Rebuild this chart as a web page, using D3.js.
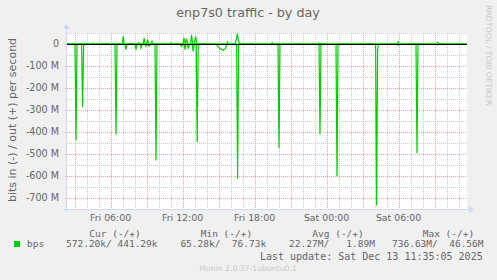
<!DOCTYPE html>
<html>
<head>
<meta charset="utf-8">
<script src="https://cdn.jsdelivr.net/npm/d3@7"></script>
<style>
  body { margin: 0; background: #f0f0f0; }
  text { font-family: "DejaVu Sans", sans-serif; fill: #666; }
  .mono { font-family: "DejaVu Sans Mono", monospace; font-size: 9.5px; white-space: pre; }
</style>
</head>
<body>
<div id="chart"></div>
<script>
// traffic values in Mbit/s
// "in" is drawn below zero, "out" above
var bpsIn = [
  ["2025-12-12 02:22", 1],
  ["2025-12-12 03:02", 1], ["2025-12-12 03:07", 438], ["2025-12-12 03:12", 2],
  ["2025-12-12 03:35", 1], ["2025-12-12 03:40", 288], ["2025-12-12 03:45", 8], ["2025-12-12 03:50", 1],
  ["2025-12-12 06:22", 1], ["2025-12-12 06:27", 411], ["2025-12-12 06:32", 1],
  ["2025-12-12 07:12", 1], ["2025-12-12 07:17", 26], ["2025-12-12 07:22", 1],
  ["2025-12-12 08:02", 1], ["2025-12-12 08:07", 26], ["2025-12-12 08:12", 1],
  ["2025-12-12 08:27", 1], ["2025-12-12 08:32", 18], ["2025-12-12 08:37", 1],
  ["2025-12-12 08:52", 1], ["2025-12-12 08:57", 10], ["2025-12-12 09:02", 1],
  ["2025-12-12 09:08", 1], ["2025-12-12 09:13", 10], ["2025-12-12 09:18", 1],
  ["2025-12-12 09:42", 1], ["2025-12-12 09:47", 530], ["2025-12-12 09:52", 1],
  ["2025-12-12 11:50", 1], ["2025-12-12 11:55", 11], ["2025-12-12 12:00", 1],
  ["2025-12-12 12:08", 1], ["2025-12-12 12:12", 26], ["2025-12-12 12:17", 1],
  ["2025-12-12 12:23", 1], ["2025-12-12 12:28", 18], ["2025-12-12 12:35", 1],
  ["2025-12-12 12:48", 1], ["2025-12-12 12:53", 34], ["2025-12-12 12:58", 1],
  ["2025-12-12 13:08", 1], ["2025-12-12 13:13", 447], ["2025-12-12 13:18", 1],
  ["2025-12-12 14:50", 1], ["2025-12-12 14:55", 10], ["2025-12-12 15:07", 20],
  ["2025-12-12 15:23", 29], ["2025-12-12 15:35", 20], ["2025-12-12 15:40", 1],
  ["2025-12-12 16:30", 1], ["2025-12-12 16:35", 612], ["2025-12-12 16:40", 1],
  ["2025-12-12 19:57", 1], ["2025-12-12 20:02", 474], ["2025-12-12 20:07", 1],
  ["2025-12-12 23:22", 1], ["2025-12-12 23:27", 411], ["2025-12-12 23:32", 1],
  ["2025-12-13 00:47", 1], ["2025-12-13 00:52", 602], ["2025-12-13 00:57", 1],
  ["2025-12-13 04:05", 1], ["2025-12-13 04:10", 734], ["2025-12-13 04:15", 25], ["2025-12-13 04:20", 1],
  ["2025-12-13 05:52", 1], ["2025-12-13 05:57", 5], ["2025-12-13 06:02", 1],
  ["2025-12-13 07:27", 1], ["2025-12-13 07:32", 497], ["2025-12-13 07:37", 1],
  ["2025-12-13 09:10", 1], ["2025-12-13 09:15", 4], ["2025-12-13 09:20", 1],
  ["2025-12-13 11:40", 1]
];

var bpsOut = [
  ["2025-12-12 02:22", 1],
  ["2025-12-12 04:27", 1], ["2025-12-12 04:32", 4], ["2025-12-12 04:37", 1],
  ["2025-12-12 05:35", 1], ["2025-12-12 05:40", 3], ["2025-12-12 05:45", 1],
  ["2025-12-12 06:58", 1], ["2025-12-12 07:03", 35], ["2025-12-12 07:08", 1],
  ["2025-12-12 08:15", 1], ["2025-12-12 08:20", 5], ["2025-12-12 08:25", 1],
  ["2025-12-12 08:43", 1], ["2025-12-12 08:48", 27], ["2025-12-12 08:53", 1],
  ["2025-12-12 09:00", 1], ["2025-12-12 09:05", 20], ["2025-12-12 09:10", 1],
  ["2025-12-12 09:22", 1], ["2025-12-12 09:27", 12], ["2025-12-12 09:32", 1],
  ["2025-12-12 10:24", 1], ["2025-12-12 10:28", 3], ["2025-12-12 10:33", 1],
  ["2025-12-12 10:57", 1], ["2025-12-12 11:02", 5], ["2025-12-12 11:07", 1],
  ["2025-12-12 11:15", 1], ["2025-12-12 11:18", 3], ["2025-12-12 11:22", 1],
  ["2025-12-12 12:02", 1], ["2025-12-12 12:07", 27], ["2025-12-12 12:14", 1],
  ["2025-12-12 12:20", 23], ["2025-12-12 12:25", 1],
  ["2025-12-12 12:40", 1], ["2025-12-12 12:45", 42], ["2025-12-12 12:50", 1],
  ["2025-12-12 12:58", 1], ["2025-12-12 13:05", 33], ["2025-12-12 13:12", 1],
  ["2025-12-12 13:40", 1], ["2025-12-12 13:45", 3], ["2025-12-12 13:50", 1],
  ["2025-12-12 15:40", 1], ["2025-12-12 15:44", 9], ["2025-12-12 15:48", 1],
  ["2025-12-12 16:22", 1], ["2025-12-12 16:30", 25], ["2025-12-12 16:34", 47],
  ["2025-12-12 16:40", 10], ["2025-12-12 16:47", 1],
  ["2025-12-12 19:24", 1], ["2025-12-12 19:28", 7], ["2025-12-12 19:33", 1],
  ["2025-12-12 20:17", 1], ["2025-12-12 20:22", 3], ["2025-12-12 20:27", 1],
  ["2025-12-12 23:15", 1], ["2025-12-12 23:18", 4], ["2025-12-12 23:33", 3], ["2025-12-12 23:37", 1],
  ["2025-12-13 02:30", 1], ["2025-12-13 02:35", 3], ["2025-12-13 02:40", 1],
  ["2025-12-13 04:36", 1], ["2025-12-13 04:40", 3], ["2025-12-13 04:45", 1],
  ["2025-12-13 05:53", 1], ["2025-12-13 05:58", 10], ["2025-12-13 06:03", 1],
  ["2025-12-13 09:10", 1], ["2025-12-13 09:13", 6], ["2025-12-13 09:18", 7], ["2025-12-13 09:22", 1],
  ["2025-12-13 11:40", 1]
];

var timeRange = ["2025-12-12 02:22", "2025-12-13 11:42"];
var xTickTimes = ["2025-12-12 06:00", "2025-12-12 12:00", "2025-12-12 18:00", "2025-12-13 00:00", "2025-12-13 06:00"];
var xTickLabels = ["Fri 06:00", "Fri 12:00", "Fri 18:00", "Sat 00:00", "Sat 06:00"];
var yTickValues = [0, -100, -200, -300, -400, -500, -600, -700];
var yTickLabels = ["0", "-100 M", "-200 M", "-300 M", "-400 M", "-500 M", "-600 M", "-700 M"];

var legendHeaders = ["Cur (-/+)", "Min (-/+)", "Avg (-/+)", "Max (-/+)"];
var legendIn = ["572.20k", "65.28k", "22.27M", "736.63M"];
var legendOut = ["441.29k", "76.73k", "1.89M", "46.56M"];

var svgWidth = 497;
var svgHeight = 280;
var plot = { left: 67, right: 467, top: 33, bottom: 209 };
var green = "#00cc00";
var axisColor = "#cfd6f8";

var parseTime = d3.utcParse("%Y-%m-%d %H:%M");

var svg = d3.select("#chart")
  .append("svg")
  .attr("width", svgWidth)
  .attr("height", svgHeight)
  .style("display", "block");

svg.append("rect")
  .attr("width", svgWidth)
  .attr("height", svgHeight)
  .attr("fill", "#f0f0f0");

var x = d3.scaleUtc()
  .domain(timeRange.map(parseTime))
  .range([plot.left, plot.right]);

var y = d3.scaleLinear()
  .domain([-750, 50])
  .range([plot.bottom, plot.top]);

// canvas
svg.append("rect")
  .attr("x", plot.left)
  .attr("y", plot.top)
  .attr("width", plot.right - plot.left)
  .attr("height", plot.bottom - plot.top)
  .attr("fill", "#fff");

var px = function(v) { return Math.round(v) + 0.5; };

// minor grid: every hour / every 50M
var hours = d3.utcHour.range(x.domain()[0], x.domain()[1]);
svg.append("g").selectAll("line")
  .data(hours.filter(function(d) { return d.getUTCHours() % 3 != 0; }))
  .enter().append("line")
  .attr("x1", function(d) { return px(x(d)); })
  .attr("x2", function(d) { return px(x(d)); })
  .attr("y1", plot.top)
  .attr("y2", plot.bottom)
  .attr("stroke", "#c8c8c8")
  .attr("stroke-dasharray", "1,1");

svg.append("g").selectAll("line")
  .data(d3.range(-750, 51, 50).filter(function(v) { return v % 100 != 0; }))
  .enter().append("line")
  .attr("x1", plot.left)
  .attr("x2", plot.right)
  .attr("y1", function(d) { return px(y(d)); })
  .attr("y2", function(d) { return px(y(d)); })
  .attr("stroke", "#c8c8c8")
  .attr("stroke-dasharray", "1,1");

// major grid: every 3 hours / every 100M
svg.append("g").selectAll("line")
  .data(hours.filter(function(d) { return d.getUTCHours() % 3 == 0; }))
  .enter().append("line")
  .attr("x1", function(d) { return px(x(d)); })
  .attr("x2", function(d) { return px(x(d)); })
  .attr("y1", plot.top)
  .attr("y2", plot.bottom + 2)
  .attr("stroke", "#f0a0a0")
  .attr("stroke-dasharray", "1,1");

svg.append("g").selectAll("line")
  .data(yTickValues.filter(function(v) { return v != 0; }))
  .enter().append("line")
  .attr("x1", plot.left - 2)
  .attr("x2", plot.right)
  .attr("y1", function(d) { return px(y(d)); })
  .attr("y2", function(d) { return px(y(d)); })
  .attr("stroke", "#f0a0a0")
  .attr("stroke-dasharray", "1,1");

// axes with arrows
svg.append("line")
  .attr("x1", px(plot.left - 1)).attr("x2", px(plot.left - 1))
  .attr("y1", plot.bottom + 3).attr("y2", plot.top - 5)
  .attr("stroke", axisColor);
svg.append("line")
  .attr("x1", plot.left - 4).attr("x2", plot.right + 3)
  .attr("y1", px(plot.bottom)).attr("y2", px(plot.bottom))
  .attr("stroke", axisColor);
svg.append("path")
  .attr("d", "M" + (plot.left - 4) + "," + (plot.top - 4) + "L" + (plot.left - 0.5) + "," + (plot.top - 9) + "L" + (plot.left + 3) + "," + (plot.top - 4) + "Z")
  .attr("fill", axisColor);
svg.append("path")
  .attr("d", "M" + (plot.right + 2) + "," + (plot.bottom - 3) + "L" + (plot.right + 7) + "," + (plot.bottom + 0.5) + "L" + (plot.right + 2) + "," + (plot.bottom + 4) + "Z")
  .attr("fill", axisColor);

// tick labels
svg.append("g").selectAll("text")
  .data(yTickValues)
  .enter().append("text")
  .attr("x", 59)
  .attr("y", function(d) { return y(d); })
  .attr("dy", "0.36em")
  .attr("text-anchor", "end")
  .attr("font-size", "9.6px")
  .text(function(d, i) { return yTickLabels[i]; });

svg.append("g").selectAll("text")
  .data(xTickTimes)
  .enter().append("text")
  .attr("x", function(d) { return x(parseTime(d)); })
  .attr("y", 220.5)
  .attr("text-anchor", "middle")
  .attr("font-size", "9.4px")
  .text(function(d, i) { return xTickLabels[i]; });

// data lines
var line = d3.line()
  .x(function(d) { return x(parseTime(d[0])); });

svg.append("path")
  .datum(bpsIn)
  .attr("d", line.y(function(d) { return y(-d[1]); }))
  .attr("fill", "none")
  .attr("stroke", green)
  .attr("stroke-width", 1.2);

svg.append("path")
  .datum(bpsOut)
  .attr("d", line.y(function(d) { return y(d[1]); }))
  .attr("fill", "none")
  .attr("stroke", green)
  .attr("stroke-width", 1.2);

// zero line
svg.append("line")
  .attr("x1", plot.left)
  .attr("x2", plot.right)
  .attr("y1", px(y(0)))
  .attr("y2", px(y(0)))
  .attr("stroke", "#000");

// titles
svg.append("text")
  .attr("x", 248)
  .attr("y", 17)
  .attr("text-anchor", "middle")
  .attr("font-size", "12.7px")
  .text("enp7s0 traffic - by day");

svg.append("text")
  .attr("transform", "translate(12, 120) rotate(-90)")
  .attr("text-anchor", "middle")
  .attr("dominant-baseline", "central")
  .attr("font-size", "11px")
  .text("bits in (-) / out (+) per second");

svg.append("text")
  .attr("transform", "translate(488, 5) rotate(90)")
  .attr("dominant-baseline", "central")
  .attr("font-size", "7.8px")
  .style("fill", "#c8c8c8")
  .text("RRDTOOL / TOBI OETIKER");

// legend, laid out like rrdtool's %6.2lf%s columns
var headerX = [89.3, 200.7, 312.3, 422.7];
var pad = function(s) { return ("       " + s).slice(-7); };
var valueRow = legendIn.map(function(v, i) {
  return pad(v) + "/ " + pad(legendOut[i]);
}).join("   ");

svg.append("rect")
  .attr("x", 14).attr("y", 241)
  .attr("width", 6).attr("height", 6)
  .attr("fill", green);

svg.append("text")
  .attr("class", "mono")
  .attr("x", 27).attr("y", 247.3)
  .text("bps");

svg.append("g").selectAll("text")
  .data(legendHeaders)
  .enter().append("text")
  .attr("class", "mono")
  .attr("x", function(d, i) { return headerX[i]; })
  .attr("y", 236.6)
  .text(function(d) { return d; });

svg.append("text")
  .attr("class", "mono")
  .attr("xml:space", "preserve")
  .attr("x", 66).attr("y", 247.3)
  .text(valueRow);

svg.append("text")
  .attr("class", "mono")
  .attr("x", 482.7).attr("y", 260)
  .attr("text-anchor", "end")
  .style("font-size", "10px")
  .text("Last update: Sat Dec 13 11:35:05 2025");

svg.append("text")
  .attr("x", 248).attr("y", 271)
  .attr("text-anchor", "middle")
  .attr("font-size", "7.7px")
  .style("fill", "#c8c8c8")
  .text("Munin 2.0.37-1ubuntu0.1");
</script>
</body>
</html>
